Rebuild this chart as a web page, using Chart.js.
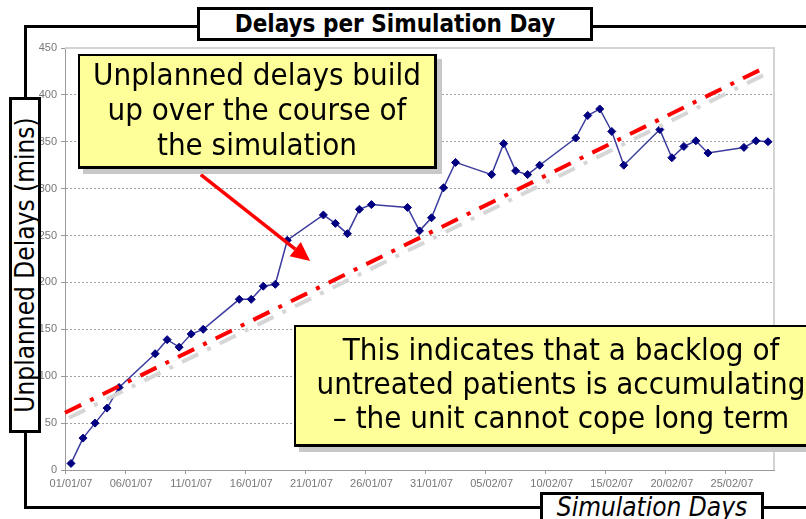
<!DOCTYPE html>
<html>
<head>
<meta charset="utf-8">
<script src="https://cdn.jsdelivr.net/npm/chart.js@4.4.0/dist/chart.umd.min.js"></script>
<style>
  html, body { margin: 0; padding: 0; }
  body { width: 806px; height: 519px; overflow: hidden; position: relative; background: #fff;
         font-family: 'DejaVu Sans Condensed', 'DejaVu Sans', sans-serif; }
  .abs { position: absolute; box-sizing: border-box; }
  #frame { left: 24px; top: 25px; width: 820px; height: 484px; border: 3px solid #000; background: #fff; }
  #chart { position: absolute; left: 0; top: 0; }
  .label { background: #fff; border: 3px solid #000; color: #000; text-align: center; white-space: nowrap; }
  #title { left: 197px; top: 7px; width: 396px; height: 34px; font-weight: bold; font-size: 24px; line-height: 28px; }
  #ytitle { left: 9px; top: 97px; width: 32px; height: 336px; }
  #ytitle div { position: absolute; width: 330px; height: 26px; left: -152px; top: 152px;
                transform: rotate(-90deg); font-size: 26px; line-height: 26px; text-align: center; }
  #xtitle { left: 540px; top: 492px; width: 224px; height: 40px; font-style: italic; font-size: 26px; line-height: 24px; }
  .callout { background: #ffff99; border: 2px solid #000; border-right-width: 3px; border-bottom-width: 3px;
             box-shadow: 5px 5px 0 #c8c8c8; text-align: center; white-space: nowrap; font-size: 31px; color: #000; }
  #note1 { left: 78px; top: 54px; width: 359px; height: 115px; line-height: 35px; padding-top: 1px; }
  #note2 { left: 294px; top: 325px; width: 535px; height: 122px; line-height: 34px; padding-top: 5px; }
</style>
</head>
<body>
<div id="frame" class="abs"></div>
<canvas id="chart" width="806" height="519"></canvas>
<div id="title" class="abs label">Delays per Simulation Day</div>
<div id="ytitle" class="abs label"><div>Unplanned Delays (mins)</div></div>
<div id="xtitle" class="abs label">Simulation Days</div>
<div id="note1" class="abs callout">Unplanned delays build<br>up over the course of<br>the simulation</div>
<div id="note2" class="abs callout">This indicates that a backlog of<br>untreated patients is accumulating<br>– the unit cannot cope long term</div>
<script>
// days since 01/01/07 (weekdays only) and the delay recorded that day
const simulationDay = [0, 1, 2, 3, 4, 7, 8, 9, 10, 11, 14, 15, 16, 17, 18, 21, 22, 23, 24, 25,
    28, 29, 30, 31, 32, 35, 36, 37, 38, 39, 42, 43, 44, 45, 46, 49, 50, 51, 52, 53, 56, 57, 58];
const delayMins = [7, 34, 50, 66, 88, 124, 139, 131, 145, 150, 182, 182, 196, 198, 245, 272, 263, 252, 278, 283,
    280, 255, 269, 301, 328, 315, 348, 319, 315, 325, 354, 378, 385, 361, 325, 363, 333, 345, 351, 338, 344, 351, 350];

// hand drawn trend line (start / end)
const trendDay = [0, 58.05];
const trendMins = [61, 428];

// axis ticks
const xTickDay = [0, 5, 10, 15, 20, 25, 30, 35, 40, 45, 50, 55];
const xTickLabels = ['01/01/07', '06/01/07', '11/01/07', '16/01/07', '21/01/07', '26/01/07',
    '31/01/07', '05/02/07', '10/02/07', '15/02/07', '20/02/07', '25/02/07'];
const yMax = 450;
const yStep = 50;

// arrow from the first callout, in chart units
const arrowFrom = { day: 11.3, mins: 315 };
const arrowTo = { day: 20.4, mins: 223 };

const seriesPoints = simulationDay.map((d, i) => ({ x: d + 0.5, y: delayMins[i] }));
const trendPoints = trendDay.map((d, i) => ({ x: d, y: trendMins[i] }));

const decorations = {
    id: 'decorations',
    beforeDatasetsDraw(chart) {
        // light grey plot border (top and right)
        const a = chart.chartArea, ctx = chart.ctx;
        ctx.save();
        ctx.strokeStyle = '#d4d4d4';
        ctx.lineWidth = 2;
        ctx.beginPath();
        ctx.moveTo(a.left, a.top);
        ctx.lineTo(a.right, a.top);
        ctx.lineTo(a.right, a.bottom);
        ctx.stroke();
        ctx.restore();
    },
    beforeDatasetDraw(chart, args) {
        if (args.index === 1) {
            const ctx = chart.ctx;
            ctx.save();
            ctx.shadowColor = '#d6d6d6';
            ctx.shadowOffsetX = 4;
            ctx.shadowOffsetY = 5;
            ctx.shadowBlur = 0;
        }
    },
    afterDatasetDraw(chart, args) {
        if (args.index === 1) chart.ctx.restore();
    },
    afterDraw(chart) {
        const ctx = chart.ctx, xs = chart.scales.x, ys = chart.scales.y;
        const x0 = xs.getPixelForValue(arrowFrom.day), y0 = ys.getPixelForValue(arrowFrom.mins);
        const x1 = xs.getPixelForValue(arrowTo.day), y1 = ys.getPixelForValue(arrowTo.mins);
        const ang = Math.atan2(y1 - y0, x1 - x0);
        const head = 19, half = 9;
        const bx = x1 - head * Math.cos(ang), by = y1 - head * Math.sin(ang);
        ctx.save();
        ctx.strokeStyle = '#ff0000';
        ctx.fillStyle = '#ff0000';
        ctx.lineWidth = 3.5;
        ctx.beginPath();
        ctx.moveTo(x0, y0);
        ctx.lineTo(bx, by);
        ctx.stroke();
        ctx.beginPath();
        ctx.moveTo(x1, y1);
        ctx.lineTo(bx + half * Math.sin(ang), by - half * Math.cos(ang));
        ctx.lineTo(bx - half * Math.sin(ang), by + half * Math.cos(ang));
        ctx.closePath();
        ctx.fill();
        ctx.restore();
    }
};

new Chart(document.getElementById('chart'), {
    type: 'line',
    data: {
        datasets: [{
            label: 'Delays',
            data: seriesPoints,
            borderColor: '#3b3b9e',
            borderWidth: 1.5,
            pointStyle: 'rectRot',
            pointRadius: 4,
            pointBackgroundColor: '#000080',
            pointBorderColor: '#000080',
            pointBorderWidth: 1,
            tension: 0,
            order: 2
        }, {
            label: 'Trend',
            data: trendPoints,
            borderColor: '#ff0000',
            borderWidth: 4,
            borderDash: [18, 10, 4, 10],
            pointRadius: 0,
            clip: false,
            order: 1
        }]
    },
    options: {
        responsive: false,
        animation: false,
        layout: { padding: { top: 48, right: 32, left: 0, bottom: 0 } },
        plugins: { legend: { display: false }, tooltip: { enabled: false }, title: { display: false } },
        scales: {
            x: {
                type: 'linear',
                min: 0,
                max: 59,
                afterBuildTicks(scale) { scale.ticks = xTickDay.map(v => ({ value: v })); },
                afterFit(scale) { scale.height = 49; },
                grid: { drawOnChartArea: false, drawTicks: true, tickLength: 4, tickColor: '#9a9a9a' },
                border: { display: true, color: '#9a9a9a', width: 1 },
                ticks: {
                    callback: (v, i) => xTickLabels[i],
                    maxRotation: 0,
                    autoSkip: false,
                    labelOffset: 6,
                    padding: 3,
                    color: '#777',
                    font: { family: "'Liberation Sans', Arial, sans-serif", size: 11 }
                }
            },
            y: {
                min: 0,
                max: yMax,
                afterFit(scale) { scale.width = 65; },
                grid: {
                    color: ctx => (ctx.tick && (ctx.tick.value === 0 || ctx.tick.value === yMax)) ? 'rgba(0,0,0,0)' : '#a0a0a0',
                    tickColor: '#9a9a9a',
                    tickLength: 4,
                    lineWidth: 1
                },
                border: { display: true, color: '#9a9a9a', width: 1, dash: [2, 2] },
                ticks: {
                    stepSize: yStep,
                    padding: 4,
                    color: '#777',
                    font: { family: "'Liberation Sans', Arial, sans-serif", size: 11 }
                }
            }
        }
    },
    plugins: [decorations]
});
</script>
</body>
</html>
